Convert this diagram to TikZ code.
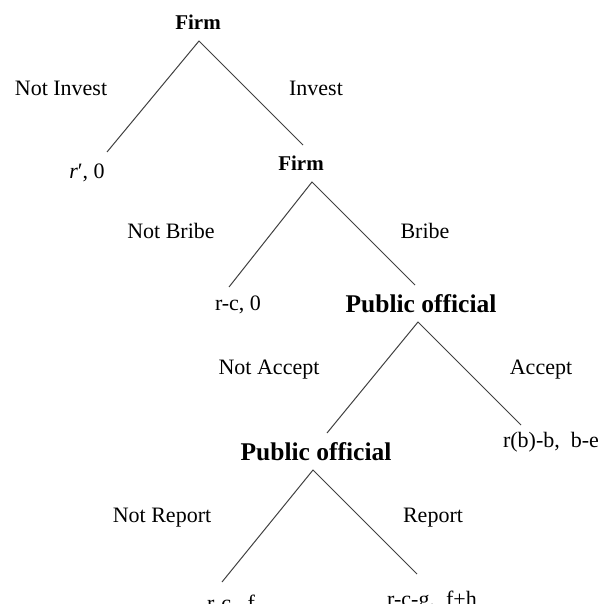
\documentclass[tikz,border=0pt]{standalone}
\usepackage{fontspec}
\setmainfont{Liberation Serif}
\usetikzlibrary{positioning}
\tikzstyle{player} = [font=\fontsize{21}{24}\selectfont\bfseries, inner sep=0pt]
\tikzstyle{official} = [font=\fontsize{25.5}{28}\selectfont\bfseries, inner sep=0pt]
\tikzstyle{move} = [font=\fontsize{22}{26}\selectfont, inner sep=0pt]
\tikzstyle{payoff} = [font=\fontsize{22}{26}\selectfont, inner sep=0pt]
\tikzstyle{branch} = [draw=black!75, line width=1pt]

\begin{document}
\begin{tikzpicture}[x=1pt, y=-1pt]
  \path[use as bounding box, clip] (0,0) rectangle (602,604);

  % players
  \node (firm) [player] at (198,22) {Firm};
  \node (firmb) [player] at (301,163) {Firm};
  \node (offa) [official] at (421,304) {Public official};
  \node (offb) [official] at (316,452) {Public official};

  % payoffs
  \node (noinv) [payoff] at (87,173) {\textit{r}′, 0};
  \node (nobribe) [payoff] at (238,305) {r-c, 0};
  \node (accpay) [payoff] at (551,442) {r(b)-b, \ b-e};
  \node (norep) [payoff, anchor=base] at (231,610) {r-c, \ f};
  \node (rep) [payoff, anchor=base] at (432,606) {r-c-g, \ f+h};

  % moves
  \node (lni) [move] at (61,88) {Not Invest};
  \node (li) [move] at (316,88) {Invest};
  \node (lnb) [move] at (171,231) {Not Bribe};
  \node (lb) [move] at (425,231) {Bribe};
  \node (lna) [move] at (269,370) {Not Accept};
  \node (la) [move] at (541,370) {Accept};
  \node (lnr) [move] at (162,518) {Not Report};
  \node (lr) [move] at (433,518) {Report};

  % branch ends
  \coordinate (firm-o) at (199,41);
  \coordinate (firmb-i) at (303,145);
  \coordinate (noinv-i) at (107,152);
  \coordinate (firmb-o) at (312,182);
  \coordinate (nobribe-i) at (229,287);
  \coordinate (offa-i) at (415,285);
  \coordinate (offa-o) at (418,322);
  \coordinate (offb-i) at (327,433);
  \coordinate (accpay-i) at (521,425);
  \coordinate (offb-o) at (313,470);
  \coordinate (norep-i) at (222,582);
  \coordinate (rep-i) at (417,574);

  \draw[branch] (noinv-i) -- (firm-o) -- (firmb-i);
  \draw[branch] (nobribe-i) -- (firmb-o) -- (offa-i);
  \draw[branch] (offb-i) -- (offa-o) -- (accpay-i);
  \draw[branch] (norep-i) -- (offb-o) -- (rep-i);
\end{tikzpicture}
\end{document}
